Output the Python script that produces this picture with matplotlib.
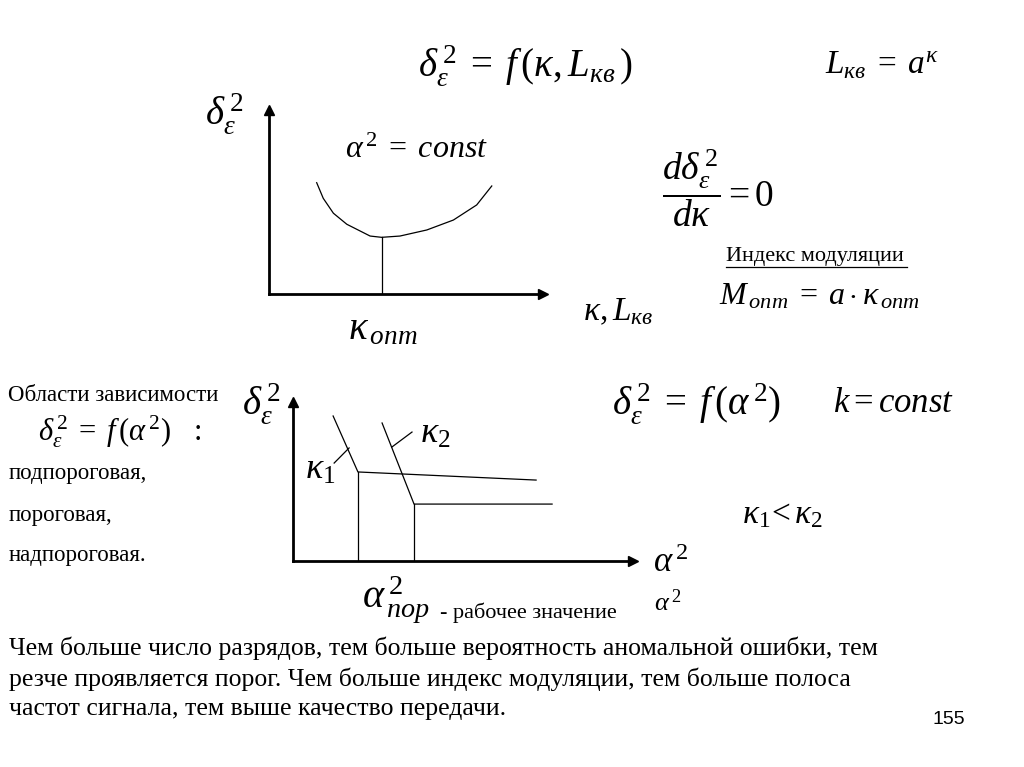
import matplotlib
matplotlib.use("Agg")
import matplotlib.pyplot as plt

plt.rcParams['mathtext.fontset'] = 'custom'
plt.rcParams['mathtext.rm'] = 'Liberation Serif'
plt.rcParams['mathtext.it'] = 'Liberation Serif:italic'
plt.rcParams['mathtext.bf'] = 'Liberation Serif:bold'
plt.rcParams['font.family'] = ['Liberation Serif', 'DejaVu Serif']

# ---- data (schematic) ----
# top plot: error vs number of bits kappa (alpha^2 = const)
k_top = [1.74, 1.98, 2.35, 2.84, 3.69, 4.11, 4.78, 5.76, 6.73, 7.58, 8.13]
d_top = [6.05, 5.20, 4.39, 3.79, 3.15, 3.08, 3.15, 3.48, 4.02, 4.84, 5.87]
k_opt = 4.11
d_opt = 3.08

# bottom plot: error vs alpha^2 for k1 < k2
a_k1 = [1.18, 1.91, 7.15]
d_k1 = [9.12, 5.60, 5.09]
a_k2 = [2.62, 3.56, 7.62]
d_k2 = [8.68, 3.58, 3.58]
lead_k1_x = [1.21, 1.65]
lead_k1_y = [6.16, 7.11]
lead_k2_x = [2.91, 3.50]
lead_k2_y = [7.17, 8.11]

W, H = 1024, 767
fig = plt.figure(figsize=(W / 100, H / 100), dpi=100)


def fx(px):
    return px / W


def fy(py):
    return 1 - py / H


def arrow_axes(ax):
    for s in ['top', 'right']:
        ax.spines[s].set_visible(False)
    for s in ['left', 'bottom']:
        ax.spines[s].set_linewidth(2.0)
    ax.set_xticks([])
    ax.set_yticks([])
    ax.patch.set_alpha(0)
    ax.plot(1, 0, '>k', ms=7, transform=ax.transAxes, clip_on=False)
    ax.plot(0, 1, '^k', ms=7, transform=ax.transAxes, clip_on=False)
    ax.set_xlim(0, 10)
    ax.set_ylim(0, 10)


# top axes
ax1 = fig.add_axes([fx(269), fy(294), fx(543) - fx(269), fy(110) - fy(294)])
arrow_axes(ax1)
ax1.plot(k_top, d_top, color='black', lw=0.9)
ax1.plot([k_opt, k_opt], [0, d_opt], color='black', lw=0.9)

# bottom axes
ax2 = fig.add_axes([fx(293), fy(561), fx(633) - fx(293), fy(402) - fy(561)])
arrow_axes(ax2)
ax2.plot(a_k1, d_k1, color='black', lw=0.9)
ax2.plot(a_k2, d_k2, color='black', lw=0.9)
ax2.plot([a_k1[1], a_k1[1]], [0, d_k1[1]], color='black', lw=0.9)
ax2.plot([a_k2[1], a_k2[1]], [0, d_k2[1]], color='black', lw=0.9)
ax2.plot(lead_k1_x, lead_k1_y, color='black', lw=0.9)
ax2.plot(lead_k2_x, lead_k2_y, color='black', lw=0.9)


def T(px, py, s, size, ha='left', va='center', **kw):
    fig.text(fx(px), fy(py), s, fontsize=size, ha=ha, va=va, **kw)


D = r'\delta_{\varepsilon}^{\,2}'
# top formulas
T(418, 66, r'$' + D + r'\;=\;f\,(\kappa,L_{кв}\,)$', 28)
T(825, 66, r'$L_{кв}\;=\;a^{\kappa}$', 24)
T(205, 113, r'$' + D + r'$', 28)
T(345, 150, r'$\alpha^{\,2}\;=\;const$', 23)
T(662, 188, r'$\dfrac{d\delta_{\varepsilon}^{\,2}}{d\kappa}=0$', 27)
T(726, 257, 'Индекс модуляции', 16)
fig.add_artist(plt.Line2D([fx(726), fx(907)], [fy(267), fy(267)], color='black', lw=0.9))
T(719, 297, r'$M_{\,опт}\;=\;a\cdot\kappa_{\,опт}$', 23)
T(583, 312, r'$\kappa,L_{кв}$', 24)
T(348, 330, r'$\kappa_{\,опт}$', 28)

# left text block
T(8, 395, 'Области зависимости', 16.5)
T(38, 432, r'$' + D + r'\;=\;f\,(\alpha^{\,2})\;\;\;:$', 22)
T(9, 474, 'подпороговая,', 16.5)
T(9, 515, 'пороговая,', 16.5)
T(9, 555, 'надпороговая.', 16.5)

# bottom plot labels
T(242, 403, r'$' + D + r'$', 28)
T(305, 470, r'$\kappa_1$', 26)
T(420, 434, r'$\kappa_2$', 26)
T(612, 403, r'$' + D + r'\;=\;f\,(\alpha^{\,2})$', 28)
T(833, 403, r'$k=const$', 25)
T(742, 515, r'$\kappa_1\!<\kappa_2$', 24)
T(653, 563, r'$\alpha^{\,2}$', 25)
T(362, 600, r'$\alpha_{\,пор}^{\,2}$', 29)
T(440, 613, '- рабочее значение', 16)
T(654, 603, r'$\alpha^{\,2}$', 19)

# paragraph
para = ('Чем больше число разрядов, тем больше вероятность аномальной ошибки, тем\n'
        'резче проявляется порог. Чем больше индекс модуляции, тем больше полоса\n'
        'частот сигнала, тем выше качество передачи.')
fig.text(fx(9), fy(637), para, fontsize=18.5, ha='left', va='top',
         family=['Liberation Serif', 'DejaVu Serif'], linespacing=1.4)
T(932, 720, '155', 14, family=['Liberation Sans', 'DejaVu Sans'])

fig.savefig('out.png', dpi=100, facecolor='white')
